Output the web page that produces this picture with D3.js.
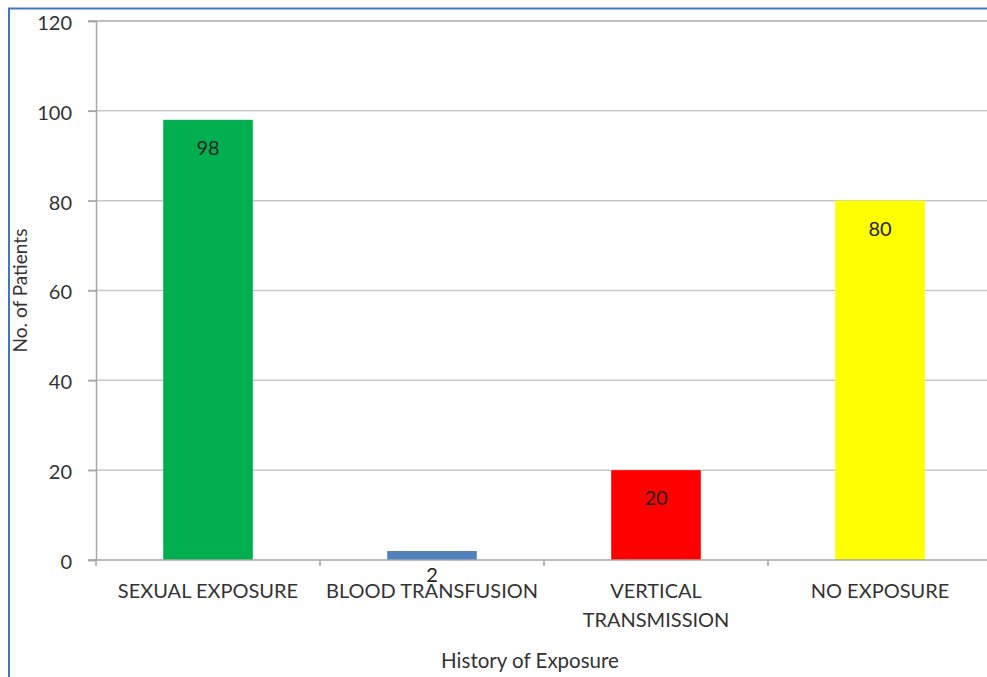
<!DOCTYPE html>
<html>
<head>
<meta charset="utf-8">
<script src="https://cdn.jsdelivr.net/npm/d3@7"></script>
<style>
  html, body { margin: 0; padding: 0; background: #fff; }
  svg { display: block; }
  text { font-family: Lato, "Open Sans", sans-serif; }
</style>
</head>
<body>
<svg id="chart" width="987" height="677"></svg>
<script>
// Patients by history of exposure
const categories = ["SEXUAL EXPOSURE", "BLOOD TRANSFUSION", "VERTICAL TRANSMISSION", "NO EXPOSURE"];
const categoryLines = [["SEXUAL EXPOSURE"], ["BLOOD TRANSFUSION"], ["VERTICAL", "TRANSMISSION"], ["NO EXPOSURE"]];
const patients = [98, 2, 20, 80];
const barColors = ["#00b050", "#4f81bd", "#ff0000", "#ffff00"];
const yTicks = [0, 20, 40, 60, 80, 100, 120];

const svg = d3.select("#chart");
const W = 987, H = 677;
const plotLeft = 96, plotRight = 992, plotTop = 21, plotBottom = 560;

// outer frame (left and top edges)
svg.append("path")
  .attr("d", `M9,${H} V8.5 H${W}`)
  .attr("fill", "none")
  .attr("stroke", "#3a78c0")
  .attr("stroke-width", 2);

const x = d3.scaleBand().domain(categories).range([plotLeft, plotRight]).paddingInner(0.6).paddingOuter(0.3);
const xOuter = d3.scaleBand().domain(categories).range([plotLeft, plotRight]);
const y = d3.scaleLinear().domain([0, 120]).range([plotBottom, plotTop]);

// gridlines
svg.append("g")
  .selectAll("line")
  .data(yTicks.filter(d => d > 0))
  .join("line")
  .attr("x1", plotLeft - 8).attr("x2", W)
  .attr("y1", d => y(d)).attr("y2", d => y(d))
  .attr("stroke", d => d === 120 ? "#aaa" : "#c8c8c8")
  .attr("stroke-width", 1.5);

// y axis
const yAxis = svg.append("g")
  .attr("transform", `translate(${plotLeft},0)`)
  .call(d3.axisLeft(y).tickValues(yTicks).tickSize(8).tickPadding(16));
yAxis.select(".domain").attr("stroke", "#a6a6a6").attr("stroke-width", 1.5);
yAxis.selectAll(".tick line").attr("stroke", "#a6a6a6").attr("stroke-width", 1.5);
yAxis.selectAll(".tick text")
  .attr("fill", "#333")
  .attr("dy", "0.42em")
  .style("font-size", "20px")
  .style("font-family", "Lato, sans-serif");

// bars
svg.append("g")
  .selectAll("rect")
  .data(patients)
  .join("rect")
  .attr("x", (d, i) => x(categories[i]))
  .attr("width", x.bandwidth())
  .attr("y", d => y(d))
  .attr("height", d => y(0) - y(d))
  .attr("fill", (d, i) => barColors[i]);

// x axis baseline and category boundary ticks
svg.append("line")
  .attr("x1", plotLeft - 8).attr("x2", W)
  .attr("y1", y(0)).attr("y2", y(0))
  .attr("stroke", "#a6a6a6").attr("stroke-width", 1.5);
svg.append("g")
  .selectAll("line")
  .data(categories)
  .join("line")
  .attr("x1", d => xOuter(d)).attr("x2", d => xOuter(d))
  .attr("y1", y(0)).attr("y2", y(0) + 6)
  .attr("stroke", "#a6a6a6").attr("stroke-width", 1.5);

// category labels
const catLabels = svg.append("g")
  .selectAll("text")
  .data(categories)
  .join("text")
  .attr("x", d => x(d) + x.bandwidth() / 2)
  .attr("y", 598)
  .attr("text-anchor", "middle")
  .attr("fill", "#333")
  .style("font-size", "20px");
catLabels.each(function(d, i) {
  d3.select(this).selectAll("tspan")
    .data(categoryLines[i])
    .join("tspan")
    .attr("x", x(d) + x.bandwidth() / 2)
    .attr("dy", (t, j) => j === 0 ? 0 : 29)
    .text(t => t);
});

// value labels
svg.append("g")
  .selectAll("text")
  .data(patients)
  .join("text")
  .attr("x", (d, i) => x(categories[i]) + x.bandwidth() / 2)
  .attr("y", d => d < 5 ? y(0) + 22 : y(d) + 35)
  .attr("text-anchor", "middle")
  .attr("fill", "#222")
  .style("font-size", "20px")
  .text(d => d);

// axis titles
svg.append("text")
  .attr("x", 530).attr("y", 668)
  .attr("text-anchor", "middle")
  .attr("fill", "#333")
  .style("font-size", "20.5px")
  .text("History of Exposure");

svg.append("text")
  .attr("transform", `translate(27,${(plotTop + plotBottom) / 2}) rotate(-90)`)
  .attr("text-anchor", "middle")
  .attr("fill", "#333")
  .style("font-size", "19px")
  .text("No. of Patients");
</script>
</body>
</html>
